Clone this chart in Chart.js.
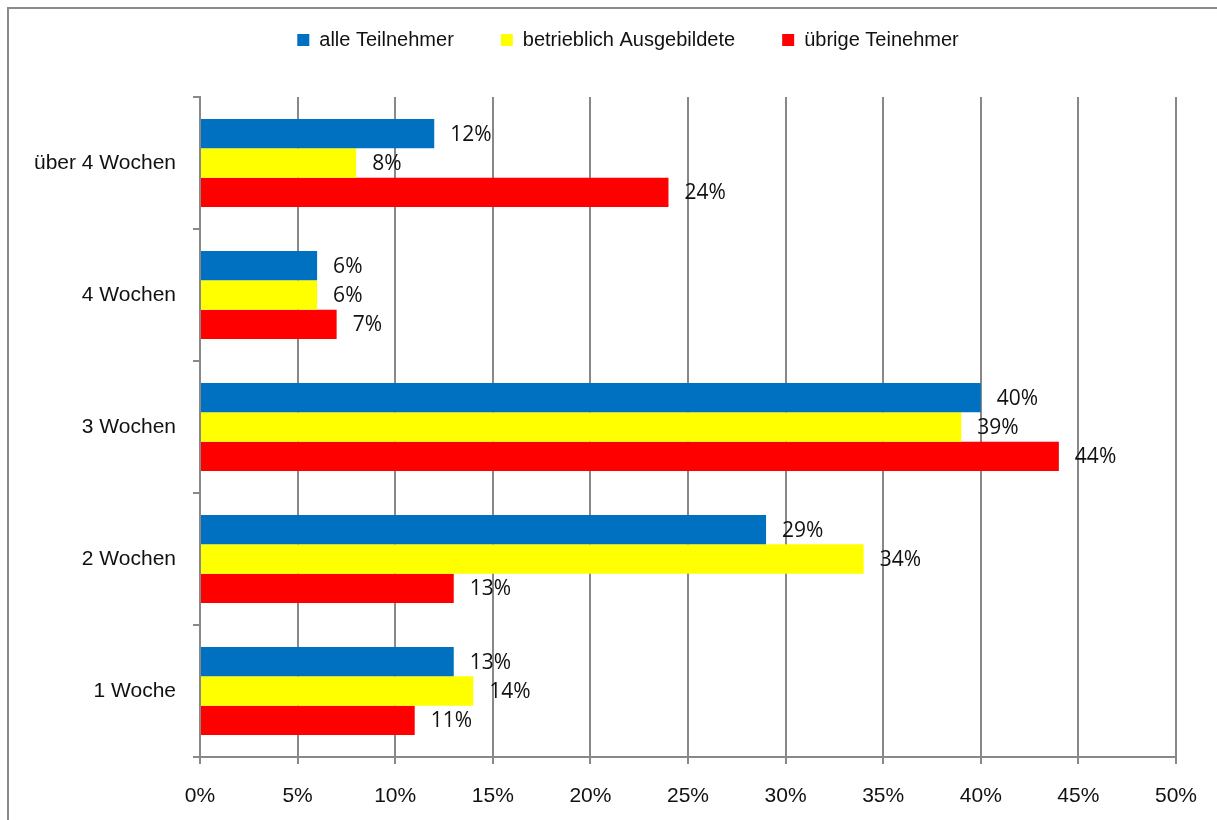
<!DOCTYPE html>
<html>
<head>
<meta charset="utf-8">
<script src="https://cdn.jsdelivr.net/npm/chart.js@4.4.1/dist/chart.umd.min.js"></script>
<style>
body { margin: 0; background: #fff; }
#rahmen { position: absolute; left: 7px; top: 7px; width: 1300px; height: 900px; border-left: 2px solid #8a8a8a; border-top: 2px solid #8a8a8a; }
canvas { position: absolute; left: 0; top: 0; }
</style>
</head>
<body>
<div id="rahmen"></div>
<canvas id="diagramm" width="1217" height="820"></canvas>
<script>
// Daten aus dem Diagramm
const kategorien = ['über 4 Wochen', '4 Wochen', '3 Wochen', '2 Wochen', '1 Woche'];
const alleTeilnehmer = [12, 6, 40, 29, 13];
const betrieblichAusgebildete = [8, 6, 39, 34, 14];
const uebrigeTeilnehmer = [24, 7, 44, 13, 11];
const serienNamen = ['alle Teilnehmer', 'betrieblich Ausgebildete', 'übrige Teinehmer'];
const achseMin = 0;
const achseMax = 50;
const achseSchritt = 5;

const grau = '#888888';

// Prozentwerte rechts neben die Balken schreiben
const wertLabels = {
    id: 'wertLabels',
    afterDatasetsDraw(chart) {
        const ctx = chart.ctx;
        ctx.save();
        ctx.font = '21px "Open Sans"';
        ctx.fillStyle = '#111';
        ctx.textAlign = 'left';
        ctx.textBaseline = 'middle';
        chart.data.datasets.forEach((ds, i) => {
            const meta = chart.getDatasetMeta(i);
            meta.data.forEach((bar, j) => {
                ctx.fillText(ds.data[j] + '%', bar.x + 16, bar.y + 1);
            });
        });
        ctx.restore();
    }
};

// Legende höher machen (Plotbereich beginnt tiefer) und etwas nach rechts schieben
const legendenAbstand = {
    id: 'legendenAbstand',
    afterInit(chart) {
        const legende = chart.legend;
        if (!legende) return;
        const fitOrig = legende.fit;
        legende.fit = function () {
            fitOrig.call(this);
            this.height += 37;
        };
        const drawOrig = legende.draw;
        legende.draw = function () {
            const c = this.ctx;
            c.save();
            c.translate(40, 0);
            drawOrig.apply(this, arguments);
            c.restore();
        };
    }
};

new Chart(document.getElementById('diagramm'), {
    type: 'bar',
    data: {
        labels: kategorien,
        datasets: [
            { label: serienNamen[0], data: alleTeilnehmer, backgroundColor: '#0070C0' },
            { label: serienNamen[1], data: betrieblichAusgebildete, backgroundColor: '#FFFF00' },
            { label: serienNamen[2], data: uebrigeTeilnehmer, backgroundColor: '#FF0000' }
        ]
    },
    options: {
        indexAxis: 'y',
        responsive: false,
        animation: false,
        categoryPercentage: 0.667,
        barPercentage: 1,
        layout: { padding: { top: -17, left: 0, right: 41, bottom: 0 } },
        plugins: {
            tooltip: { enabled: false },
            legend: {
                position: 'top',
                labels: {
                    boxWidth: 12,
                    boxHeight: 12,
                    padding: 47,
                    color: '#111',
                    font: { family: '"Liberation Sans", Arial', size: 20 }
                }
            }
        },
        scales: {
            x: {
                min: achseMin,
                max: achseMax,
                ticks: {
                    stepSize: achseSchritt,
                    padding: 20,
                    color: '#111',
                    font: { family: '"Liberation Sans", Arial', size: 21 },
                    callback: v => v + '%'
                },
                grid: { color: grau, lineWidth: 2, tickLength: 7 },
                border: { color: grau, width: 2 },
                afterFit(scale) { scale.height = 63; }
            },
            y: {
                ticks: {
                    padding: 17,
                    color: '#111',
                    font: { family: '"Liberation Sans", Arial', size: 21 }
                },
                grid: { drawOnChartArea: false, color: grau, lineWidth: 2, tickLength: 7 },
                border: { color: grau, width: 2 },
                afterFit(scale) { scale.width = 200; }
            }
        }
    },
    plugins: [wertLabels, legendenAbstand]
});
</script>
</body>
</html>
